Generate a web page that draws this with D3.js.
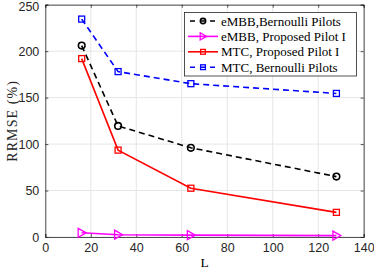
<!DOCTYPE html>
<html><head><meta charset="utf-8">
<script src="https://cdn.jsdelivr.net/npm/d3@7"></script>
<style>body{margin:0;background:#fff}</style>
</head><body>
<svg id="c" width="374" height="271"></svg>
<script>
const L = [16, 32, 64, 128];
const embbBernoulli = [206, 119.5, 96, 65];
const embbProposed = [4.5, 2.5, 2, 1.5];
const mtcProposed = [192, 93.5, 52.5, 26.5];
const mtcBernoulli = [234.5, 178, 165, 154.5];
const xTicks = [0, 20, 40, 60, 80, 100, 120, 140];
const yTicks = [0, 50, 100, 150, 200, 250];
const legendLabels = ["eMBB,Bernoulli Pilots", "eMBB, Proposed Pilot I", "MTC, Proposed Pilot I", "MTC, Bernoulli Pilots"];

const series = [
  {vals: embbBernoulli, color: "#000", dash: "6,4", marker: "circle"},
  {vals: embbProposed, color: "#ff00ff", dash: null, marker: "tri"},
  {vals: mtcProposed, color: "#ff0000", dash: null, marker: "square"},
  {vals: mtcBernoulli, color: "#0000ff", dash: "6,4", marker: "square"}
];

const svg = d3.select("#c");
const x = d3.scaleLinear().domain([0, 140]).range([45.3, 363.7]);
const y = d3.scaleLinear().domain([0, 250]).range([237, 4.7]);

// grid
svg.append("g").selectAll("line").data(xTicks).join("line")
  .attr("x1", d => x(d)).attr("x2", d => x(d)).attr("y1", y(0)).attr("y2", y(250))
  .attr("stroke", "#e6e6e6").attr("stroke-width", 1);
svg.append("g").selectAll("line").data(yTicks).join("line")
  .attr("y1", d => y(d)).attr("y2", d => y(d)).attr("x1", x(0)).attr("x2", x(140))
  .attr("stroke", "#e6e6e6").attr("stroke-width", 1);

// axes
const xAxis = d3.axisBottom(x).tickValues(xTicks).tickSize(-3).tickPadding(6);
const yAxis = d3.axisLeft(y).tickValues(yTicks).tickSize(-3).tickPadding(6);
const gx = svg.append("g").attr("transform", `translate(0,${y(0)})`).call(xAxis);
const gy = svg.append("g").attr("transform", `translate(${x(0)},0)`).call(yAxis);
const gx2 = svg.append("g").attr("transform", `translate(0,${y(250)})`).call(d3.axisTop(x).tickValues(xTicks).tickSize(-3).tickFormat(""));
const gy2 = svg.append("g").attr("transform", `translate(${x(140)},0)`).call(d3.axisRight(y).tickValues(yTicks).tickSize(-3).tickFormat(""));
[gx, gy, gx2, gy2].forEach(g => {
  g.selectAll("path").attr("stroke", "#262626").attr("stroke-width", 0.8);
  g.selectAll("line").attr("stroke", "#262626").attr("stroke-width", 0.8);
  g.selectAll("text").attr("font-family", "Liberation Sans, Arial, sans-serif").attr("font-size", 12.5).attr("fill", "#262626");
});
// keep the top tick label inside the picture
gy.selectAll(".tick").filter(d => d === 250).select("text").attr("dy", "0.45em");

// labels
svg.append("text").attr("x", x(70)).attr("y", 267).attr("text-anchor", "middle")
  .attr("font-family", "Liberation Serif, serif").attr("font-size", 13.5).text("L");
svg.append("text").attr("transform", `translate(17,${y(125)}) rotate(-90)`).attr("text-anchor", "middle")
  .attr("font-family", "Liberation Serif, serif").attr("font-size", 14).attr("letter-spacing", 1.1)
  .attr("fill", "#262626").text("RRMSE (%)");

function drawMarker(g, type, cx, cy, color, sc) {
  sc = sc || 1;
  if (type === "circle") {
    g.append("circle").attr("cx", cx).attr("cy", cy).attr("r", 3.3 * sc)
      .attr("fill", "none").attr("stroke", color).attr("stroke-width", 1.6);
  } else if (type === "square") {
    g.append("rect").attr("x", cx - 3 * sc).attr("y", cy - 3 * sc).attr("width", 6 * sc).attr("height", 6 * sc)
      .attr("fill", "none").attr("stroke", color).attr("stroke-width", 1.3);
  } else if (type === "tri") {
    g.append("path").attr("d", `M${cx - 3.5 * sc},${cy - 4.5 * sc}L${cx + 4.5 * sc},${cy}L${cx - 3.5 * sc},${cy + 4.5 * sc}Z`)
      .attr("fill", "none").attr("stroke", color).attr("stroke-width", 1.3);
  }
}

const line = d3.line().x((d, i) => x(L[i])).y(d => y(d));
series.forEach(s => {
  const g = svg.append("g");
  g.append("path").attr("d", line(s.vals)).attr("fill", "none").attr("stroke", s.color)
    .attr("stroke-width", 1.6).attr("stroke-dasharray", s.dash);
  s.vals.forEach((v, i) => drawMarker(g, s.marker, x(L[i]), y(v), s.color));
});

// legend
const lg = svg.append("g");
lg.append("rect").attr("x", 184.5).attr("y", 12.5).attr("width", 172).attr("height", 63.5)
  .attr("fill", "#fff").attr("stroke", "#262626").attr("stroke-width", 0.8);
series.forEach((s, i) => {
  const yy = 21 + i * 15.4;
  lg.append("line").attr("x1", 188).attr("x2", 218).attr("y1", yy).attr("y2", yy)
    .attr("stroke", s.color).attr("stroke-width", 1.6).attr("stroke-dasharray", s.dash ? "5,5" : null)
    .attr("stroke-dashoffset", s.dash ? -2 : 0);
  drawMarker(lg, s.marker, 203, yy, s.color, 0.8);
  lg.append("text").attr("x", 221).attr("y", yy + 4.5).attr("font-family", "Liberation Serif, serif")
    .attr("font-size", 13).attr("fill", "#000").text(legendLabels[i]);
});
</script>
</body></html>
